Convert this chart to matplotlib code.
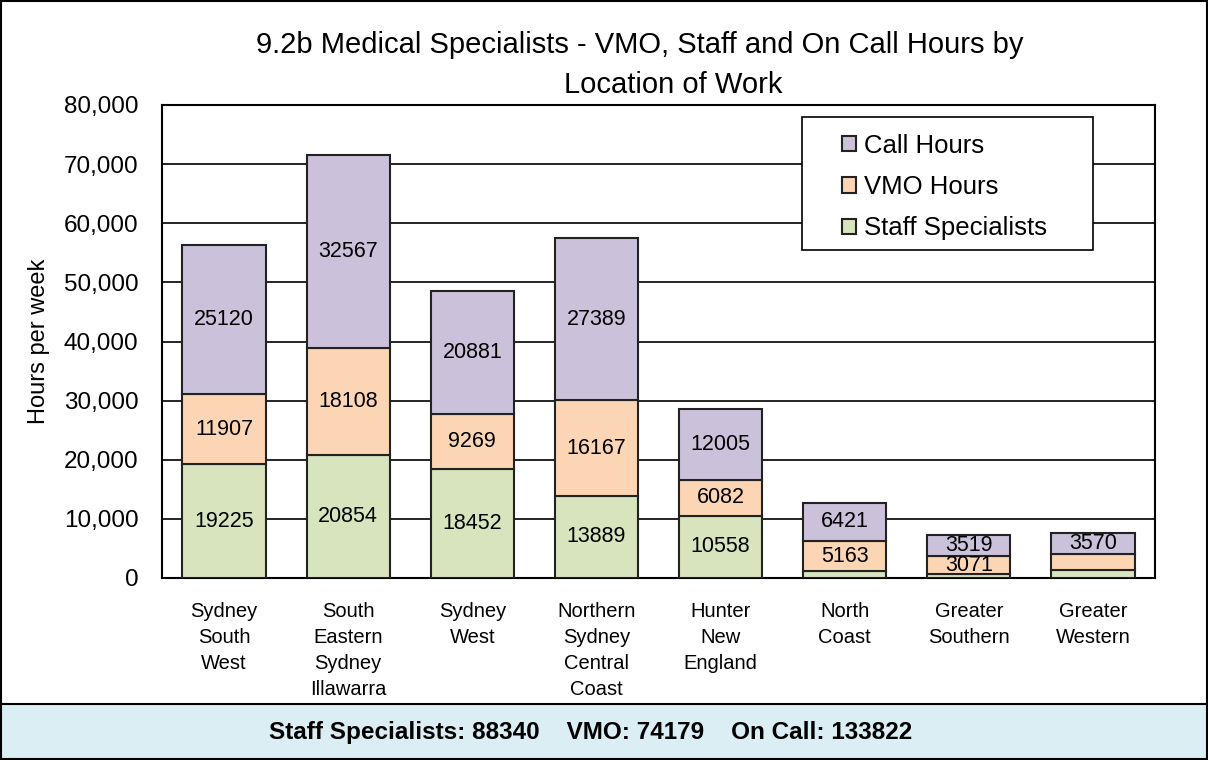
import matplotlib.pyplot as plt
from matplotlib.patches import Rectangle
from matplotlib.ticker import FuncFormatter

plt.rcParams["font.family"] = ["Liberation Sans", "DejaVu Sans"]

locations = [
    "Sydney\nSouth\nWest",
    "South\nEastern\nSydney\nIllawarra",
    "Sydney\nWest",
    "Northern\nSydney\nCentral\nCoast",
    "Hunter\nNew\nEngland",
    "North\nCoast",
    "Greater\nSouthern",
    "Greater\nWestern",
]

staff = [19225, 20854, 18452, 13889, 10558, 1100, 600, 1300]
vmo = [11907, 18108, 9269, 16167, 6082, 5163, 3071, 2800]
call = [25120, 32567, 20881, 27389, 12005, 6421, 3519, 3570]

# which segments carry a printed value in the original
staff_shown = [True, True, True, True, True, False, False, False]
vmo_shown = [True, True, True, True, True, True, True, False]
call_shown = [True] * 8

totals_text = "Staff Specialists: 88340    VMO: 74179    On Call: 133822"

C_STAFF = "#d7e4bd"
C_VMO = "#fcd5b5"
C_CALL = "#ccc1da"

fig = plt.figure(figsize=(12.08, 7.6), dpi=100)

# outer frame and bottom band
fig.patches.append(Rectangle((0.001, 0.001), 0.998, 0.998, transform=fig.transFigure,
                             fill=False, edgecolor="black", linewidth=1.5))
fig.patches.append(Rectangle((0.001, 0.001), 0.998, 55 / 760, transform=fig.transFigure,
                             facecolor="#dbeef4", edgecolor="black", linewidth=1.5))
fig.text(591 / 1208, 27 / 760, totals_text, ha="center", va="center",
         fontsize=17.5, fontweight="bold")

ax = fig.add_axes([162 / 1208, 182 / 760, 993 / 1208, 473 / 760])

x = list(range(len(locations)))
w = 0.67
edge = dict(edgecolor="#222222", linewidth=1.5)

b1 = ax.bar(x, staff, w, color=C_STAFF, label="Staff Specialists", zorder=3, **edge)
bottom2 = staff
b2 = ax.bar(x, vmo, w, bottom=bottom2, color=C_VMO, label="VMO Hours", zorder=3, **edge)
bottom3 = [s + v for s, v in zip(staff, vmo)]
b3 = ax.bar(x, call, w, bottom=bottom3, color=C_CALL, label="Call Hours", zorder=3, **edge)

fs = 15.5
for i in x:
    if staff_shown[i]:
        ax.text(i, staff[i] / 2, str(staff[i]), ha="center", va="center", fontsize=fs, zorder=4)
    if vmo_shown[i]:
        ax.text(i, bottom2[i] + vmo[i] / 2, str(vmo[i]), ha="center", va="center",
                fontsize=fs, zorder=4)
    if call_shown[i]:
        ax.text(i, bottom3[i] + call[i] / 2, str(call[i]), ha="center", va="center",
                fontsize=fs, zorder=4)

ax.set_xlim(-0.5, len(locations) - 0.5)
ax.set_ylim(0, 80000)
ax.set_yticks(range(0, 80001, 10000))
ax.yaxis.set_major_formatter(FuncFormatter(lambda v, p: f"{int(v):,}"))
ax.grid(axis="y", color="black", linewidth=1.2, zorder=0)
ax.set_xticks(x)
ax.set_xticklabels(locations, fontsize=14.5, linespacing=1.48, va="top")
ax.tick_params(axis="both", length=0)
ax.tick_params(axis="y", labelsize=17.5, pad=17)
ax.tick_params(axis="x", pad=17)
for s in ax.spines.values():
    s.set_linewidth(1.5)
ax.set_ylabel("Hours per week", fontsize=17, labelpad=10)

# legend box drawn separately so its padding can match the original
ax.add_patch(Rectangle((0.6445, 0.6934), 0.2931, 0.2812, transform=ax.transAxes,
                       facecolor="white", edgecolor="black", linewidth=1.2, zorder=5))
leg = ax.legend(handles=[b3, b2, b1], loc="center left", bbox_to_anchor=(0.6848, 0.8266),
                fontsize=18.5, frameon=False,
                handlelength=0.55, handleheight=0.55, handletextpad=0.32,
                labelspacing=0.68, borderpad=0, borderaxespad=0)
leg.set_zorder(6)

fig.text(640 / 1208, 1 - 45 / 760, "9.2b Medical Specialists - VMO, Staff and On Call Hours by",
         ha="center", va="center", fontsize=21)
fig.text(673 / 1208, 1 - 85 / 760, "Location of Work",
         ha="center", va="center", fontsize=21)

fig.savefig("out.png", dpi=100)
